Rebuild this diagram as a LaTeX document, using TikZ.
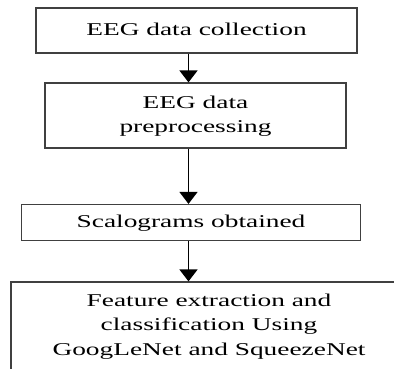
\documentclass[tikz,border=0pt]{standalone}
\usepackage{fontspec}
\setmainfont{Liberation Serif}
\usepackage{graphicx}
\usepackage{tikz}
\usetikzlibrary{arrows.meta,positioning}

% wide lettering, several lines centred
\newcommand{\widetext}[1]{\scalebox{1.52}[1]{\begin{tabular}{@{}c@{}}#1\end{tabular}}}

\begin{document}
\begin{tikzpicture}[
	x=1pt, y=1pt,
	stage/.style={draw=black!75, line width=1.2pt, inner sep=0pt, align=center,
		font=\fontsize{18}{24.5}\selectfont},
	arr/.style={-{Triangle[length=12pt, width=18pt]}, line width=1.6pt}
	]
	\useasboundingbox (0,0) rectangle (394,368);
	\clip (0,0) rectangle (394,368);
	\node[stage, minimum width=321pt, minimum height=45pt] (collect) at (196.5,337.5) {\widetext{EEG data collection}};
	\node[stage, minimum width=301pt, minimum height=65pt] (prep) at (195.5,252.5) {\widetext{EEG data\\preprocessing}};
	\node[stage, minimum width=339pt, minimum height=36pt] (scalo) at (191,145.5) {\widetext{Scalograms obtained}};
	\node[stage, minimum width=396pt, minimum height=88pt] (classify) at (209,42) {\widetext{Feature extraction and\\classification Using\\GoogLeNet and SqueezeNet}};
	\coordinate (spine) at (188.5,0);
	\draw[arr] (collect.south -| spine) -- (prep.north -| spine);
	\draw[arr] (prep.south -| spine) -- (scalo.north -| spine);
	\draw[arr] (scalo.south -| spine) -- (classify.north -| spine);
\end{tikzpicture}
\end{document}
